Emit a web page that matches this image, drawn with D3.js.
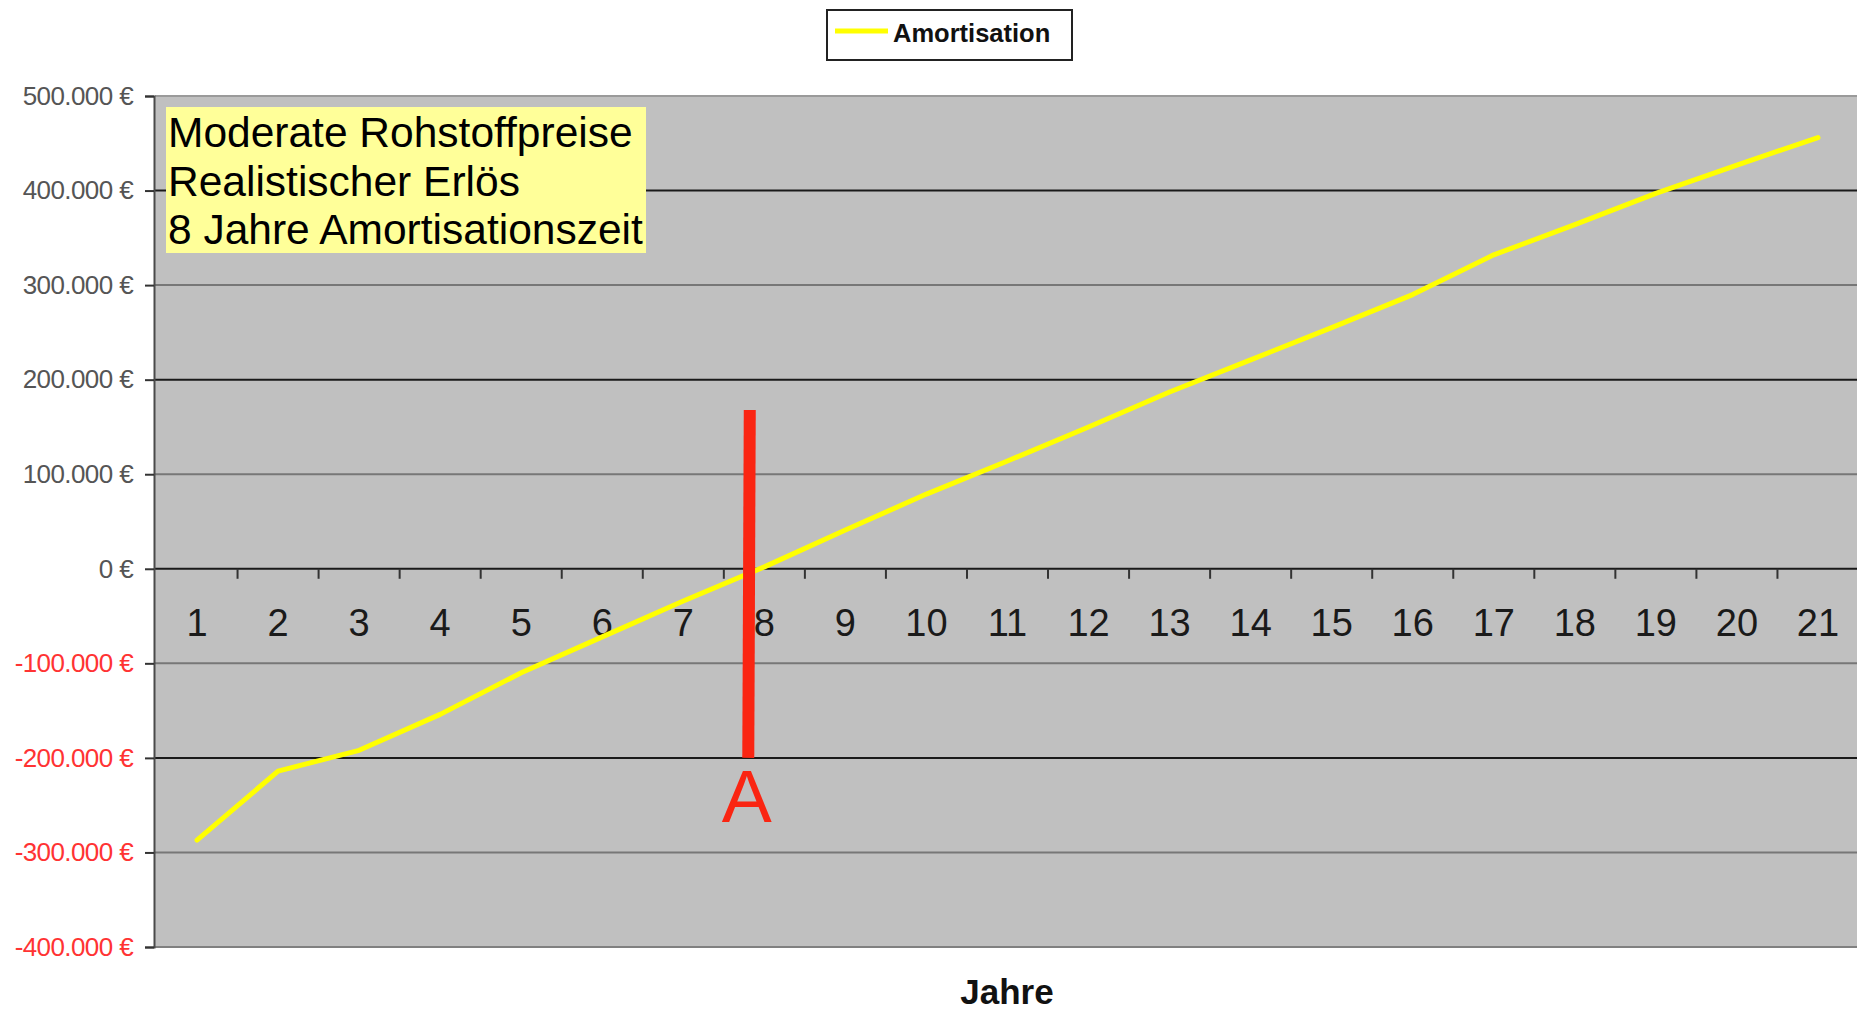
<!DOCTYPE html>
<html>
<head>
<meta charset="utf-8">
<script src="https://cdn.jsdelivr.net/npm/d3@7"></script>
<style>
    body { margin: 0; background: #ffffff; }
    text { font-family: "Liberation Sans", Arial, sans-serif; }
</style>
</head>
<body>
<div id="chart"></div>
<script>
// data
var years = d3.range(1, 22);
var amortisation = [-287000, -214000, -192000, -154000, -110000, -72000, -34000, 2000, 41000, 79000,
    114000, 150000, 187000, 221000, 255000, 290000, 332000, 364000, 397000, 427000, 456000];
var yTicks = [500000, 400000, 300000, 200000, 100000, 0, -100000, -200000, -300000, -400000];
var noteLines = ["Moderate Rohstoffpreise", "Realistischer Erlös", "8 Jahre Amortisationszeit"];
// red marker: position in years, from / to values
var markerYear = [7.82];
var markerRange = [-200000, 168000];
var markerLabel = ["A"];

var width = 1857, height = 1016;
var plot = { left: 155, right: 1857, top: 96, bottom: 947 };

var de = d3.formatLocale({ decimal: ",", thousands: ".", grouping: [3], currency: ["", " €"], minus: "-" });
var fmt = de.format(",.0f");

var svg = d3.select("#chart").append("svg")
    .attr("width", width)
    .attr("height", height);

var x = d3.scaleBand()
    .domain(years)
    .range([plot.left + 1.5, plot.right + 1.5])
    .paddingInner(0)
    .paddingOuter(0);

// continuous version of the category axis (category centers at integers)
var xLin = d3.scaleLinear()
    .domain([0.5, 21.5])
    .range([plot.left + 1.5, plot.right + 1.5]);

var y = d3.scaleLinear()
    .domain([-400000, 500000])
    .range([plot.bottom, plot.top]);

// plot area
svg.append("rect")
    .attr("x", plot.left)
    .attr("y", plot.top)
    .attr("width", plot.right - plot.left)
    .attr("height", plot.bottom - plot.top)
    .style("fill", "#c0c0c0");

// gridlines, black every 200.000, grey in between and at the edges
svg.append("g").selectAll("line")
    .data(yTicks)
    .enter().append("line")
    .attr("x1", plot.left)
    .attr("x2", plot.right)
    .attr("y1", function(d) { return y(d); })
    .attr("y2", function(d) { return y(d); })
    .style("stroke", function(d) {
        if (d === 500000) return "#9a9a9a";
        if (d === -400000) return "#808080";
        return (d % 200000 === 0) ? "#1a1a1a" : "#777777";
    })
    .style("stroke-width", 2);

// y axis
var yAxis = d3.axisLeft(y)
    .tickValues(yTicks)
    .tickSize(9)
    .tickPadding(12)
    .tickFormat(function(d) { return fmt(d) + " €"; });

var yG = svg.append("g")
    .attr("transform", "translate(" + (plot.left - 1) + ",0)")
    .call(yAxis);

yG.select(".domain")
    .style("stroke", "#4a4a4a")
    .style("stroke-width", 2);
yG.selectAll(".tick line")
    .style("stroke", "#333333")
    .style("stroke-width", 2);
yG.selectAll(".tick text")
    .style("font-family", "'Liberation Sans', Arial, sans-serif")
    .style("font-size", "26px")
    .style("letter-spacing", "-0.6px")
    .style("fill", function(d) { return d < 0 ? "#ff3333" : "#555555"; });

// x axis on the zero line, ticks between categories
var xG = svg.append("g");

xG.selectAll("line")
    .data(d3.range(1.5, 21.5, 1))
    .enter().append("line")
    .attr("x1", function(d) { return xLin(d); })
    .attr("x2", function(d) { return xLin(d); })
    .attr("y1", y(0))
    .attr("y2", y(0) + 10)
    .style("stroke", "#333333")
    .style("stroke-width", 2);

xG.selectAll("text")
    .data(years)
    .enter().append("text")
    .attr("x", function(d) { return x(d) + x.bandwidth() / 2; })
    .attr("y", y(0) + 67)
    .attr("text-anchor", "middle")
    .style("font-size", "38px")
    .style("fill", "#1a1a1a")
    .text(function(d) { return d; });

// note box
var note = svg.append("g");

note.append("rect")
    .attr("x", 166)
    .attr("y", 107)
    .attr("width", 480)
    .attr("height", 146)
    .style("fill", "#ffff99");

note.selectAll("text")
    .data(noteLines)
    .enter().append("text")
    .attr("x", 168)
    .attr("y", function(d, i) { return 147 + i * 48.5; })
    .style("font-size", "42.5px")
    .style("fill", "#000000")
    .text(function(d) { return d; });

// amortisation line
var line = d3.line()
    .x(function(d, i) { return x(years[i]) + x.bandwidth() / 2; })
    .y(function(d) { return y(d); });

svg.append("path")
    .datum(amortisation)
    .attr("d", line)
    .style("fill", "none")
    .style("stroke", "#ffff00")
    .style("stroke-width", 5)
    .style("stroke-linejoin", "round")
    .style("stroke-linecap", "round");

// red marker
svg.append("line")
    .attr("x1", xLin(markerYear[0]))
    .attr("x2", xLin(markerYear[0]) - 1.5)
    .attr("y1", y(markerRange[1]))
    .attr("y2", y(markerRange[0]))
    .style("stroke", "#fa2512")
    .style("stroke-width", 12);

svg.append("text")
    .attr("x", xLin(markerYear[0]) - 3)
    .attr("y", y(markerRange[0]) + 64)
    .attr("text-anchor", "middle")
    .style("font-size", "75px")
    .style("fill", "#fa2512")
    .text(markerLabel[0]);

// legend
var legend = svg.append("g");

legend.append("rect")
    .attr("x", 827)
    .attr("y", 10)
    .attr("width", 245)
    .attr("height", 50)
    .style("fill", "#ffffff")
    .style("stroke", "#222222")
    .style("stroke-width", 2);

legend.append("line")
    .attr("x1", 835)
    .attr("x2", 888)
    .attr("y1", 31)
    .attr("y2", 31)
    .style("stroke", "#ffff00")
    .style("stroke-width", 5);

legend.append("text")
    .attr("x", 893)
    .attr("y", 42)
    .style("font-size", "25.5px")
    .style("font-weight", "bold")
    .style("fill", "#111111")
    .text("Amortisation");

// x axis title
svg.append("text")
    .attr("x", 1007)
    .attr("y", 1004)
    .attr("text-anchor", "middle")
    .style("font-size", "35px")
    .style("font-weight", "bold")
    .style("fill", "#111111")
    .text("Jahre");
</script>
</body>
</html>
